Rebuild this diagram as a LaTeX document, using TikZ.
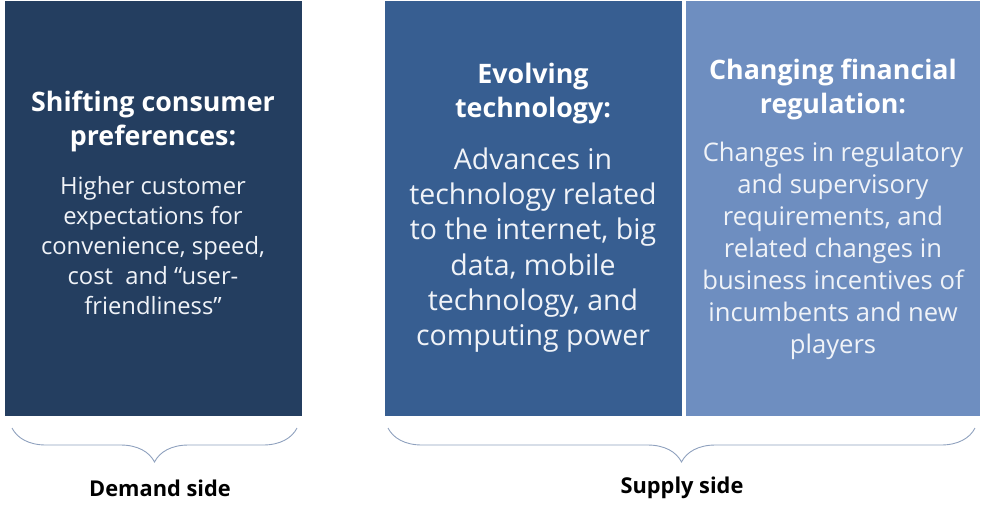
\documentclass[tikz,border=0pt]{standalone}
\usepackage{fontspec}
\setmainfont{Open Sans}
\usetikzlibrary{decorations.pathreplacing}
\definecolor{navy}{HTML}{243E60}
\definecolor{midblue}{HTML}{375E91}
\definecolor{lightblue}{HTML}{6E8EC0}
\definecolor{bracecol}{HTML}{8FA1BE}
\definecolor{bodytext}{HTML}{F0F3F8}
\begin{document}
\begin{tikzpicture}[x=1pt,y=-1pt,
  panel/.style={draw=none,anchor=north west,inner sep=0pt},
  title/.style={text=white,align=center,font=\bfseries\fontsize{26.8}{34}\selectfont,anchor=center},
  body/.style={text=bodytext,align=center,anchor=center},
  sidebrace/.style={draw=bracecol,line width=0.9pt,decorate,decoration={brace,mirror,amplitude=34pt}},
  sidelabel/.style={font=\bfseries\fontsize{21.8}{26}\selectfont,text=black}]
\useasboundingbox (0,0) rectangle (982,504);
% panels
\fill[navy] (5,1) rectangle (302,416);
\fill[midblue] (385,1) rectangle (682,416);
\fill[lightblue] (686,1) rectangle (980,416);
\node[panel] (p1) at (5,1) {};
\node[panel] (p2) at (385,1) {};
\node[panel] (p3) at (686,1) {};
% titles
\node[title] (t1) at (153,121) {Shifting consumer\\preferences:};
\node[title] (t2) at (533,94) {Evolving\\technology:};
\node[title] (t3) at (833,89) {Changing financial\\regulation:};
% bodies
\node[body,font=\fontsize{23.8}{30}\selectfont] (b1) at (153,246) {Higher customer\\expectations for\\convenience, speed,\\cost~ and “user-\\friendliness”};
\node[body,font=\fontsize{28.5}{35.3}\selectfont] (b2) at (533,250) {Advances in\\technology related\\to the internet, big\\data, mobile\\technology, and\\computing power};
\node[body,font=\fontsize{25.6}{32}\selectfont] (b3) at (833,251) {Changes in regulatory\\and supervisory\\requirements, and\\related changes in\\business incentives of\\incumbents and new\\players};
% braces
\coordinate (d1) at (12,428);
\coordinate (d2) at (297,428);
\coordinate (s1) at (388,428);
\coordinate (s2) at (975,428);
\draw[sidebrace] (d1) -- (d2);
\draw[sidebrace] (s1) -- (s2);
\node[sidelabel] (dl) at (160,488) {Demand side};
\node[sidelabel] (sl) at (682,488) {Supply side};
\end{tikzpicture}
\end{document}
